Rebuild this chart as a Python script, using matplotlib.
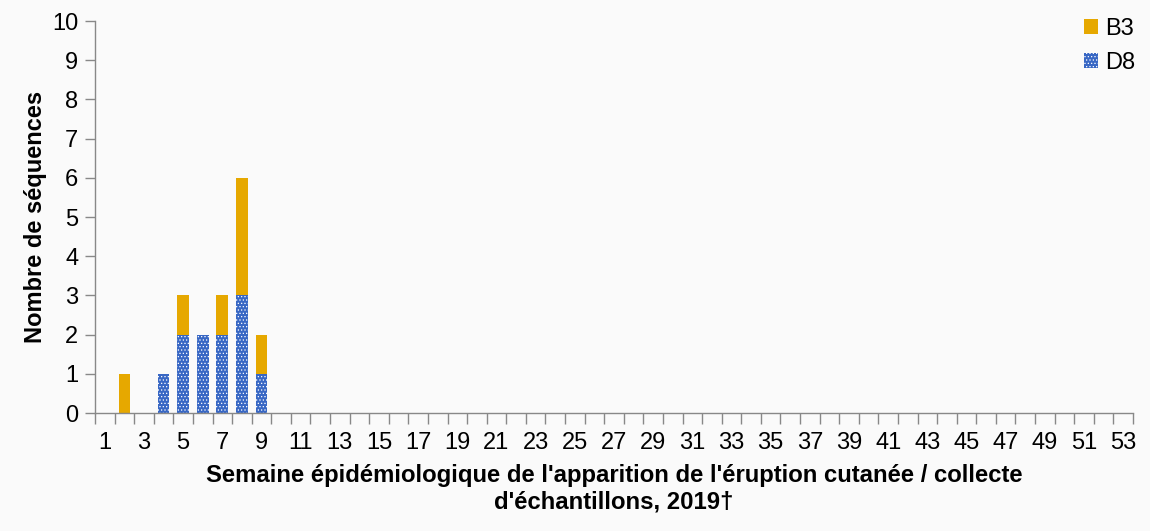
import numpy as np
import matplotlib
matplotlib.use("Agg")
import matplotlib.pyplot as plt
from matplotlib.ticker import FixedLocator

# === Data ===
weeks = list(range(1, 54))
d8_counts = {4: 1, 5: 2, 6: 2, 7: 2, 8: 3, 9: 1}
b3_counts = {2: 1, 5: 1, 7: 1, 8: 3, 9: 1}
d8 = [d8_counts.get(w, 0) for w in weeks]
b3 = [b3_counts.get(w, 0) for w in weeks]

x_label = ("Semaine épidémiologique de l'apparition de l'éruption cutanée / collecte\n"
           "d'échantillons, 2019\u2020")
y_label = "Nombre de séquences"

# === Style ===
plt.rcParams['font.family'] = ['Liberation Sans', 'DejaVu Sans']
plt.rcParams['hatch.color'] = 'white'
plt.rcParams['hatch.linewidth'] = 0.5
bg = '#fafafa'
grey = '#888888'
col_b3 = '#e6a800'
col_d8 = '#3867c4'

fig = plt.figure(figsize=(11.5, 5.31), dpi=100, facecolor=bg)
ax = fig.add_axes([95 / 1150, 118 / 531, 1038 / 1150, 392 / 531], facecolor=bg)

x = np.arange(len(weeks))
ax.bar(x, d8, width=0.6, color=col_d8, hatch='.....', linewidth=0, label='D8')
ax.bar(x, b3, width=0.6, bottom=d8, color=col_b3, linewidth=0, label='B3')

ax.set_xlim(-0.5, len(weeks) - 0.5)
ax.set_ylim(0, 10)
ax.set_yticks(range(0, 11))

# labels on odd weeks, tick marks at category boundaries
ax.set_xticks(x[::2])
ax.set_xticklabels([str(w) for w in weeks[::2]])
ax.xaxis.set_minor_locator(FixedLocator(np.arange(-0.5, len(weeks), 1.0)))
ax.tick_params(axis='x', which='major', length=0, pad=14, labelsize=17)
ax.tick_params(axis='x', which='minor', length=8, width=1, color=grey, direction='out')
ax.tick_params(axis='y', length=7, width=1, color=grey, labelsize=17, pad=5)

for s in ['top', 'right']:
    ax.spines[s].set_visible(False)
for s in ['left', 'bottom']:
    ax.spines[s].set_color(grey)
    ax.spines[s].set_linewidth(1)

ax.set_ylabel(y_label, fontsize=17, fontweight='bold', labelpad=4)
ax.set_xlabel(x_label, fontsize=17.2, fontweight='bold', labelpad=7)

handles, labels = ax.get_legend_handles_labels()
ax.legend(handles[::-1], labels[::-1], loc='upper right', bbox_to_anchor=(1.023, 1.062),
          frameon=False, fontsize=17, handlelength=0.6, handleheight=0.6,
          handletextpad=0.3, labelspacing=0.5)

fig.savefig("out.png", dpi=100, facecolor=bg)
